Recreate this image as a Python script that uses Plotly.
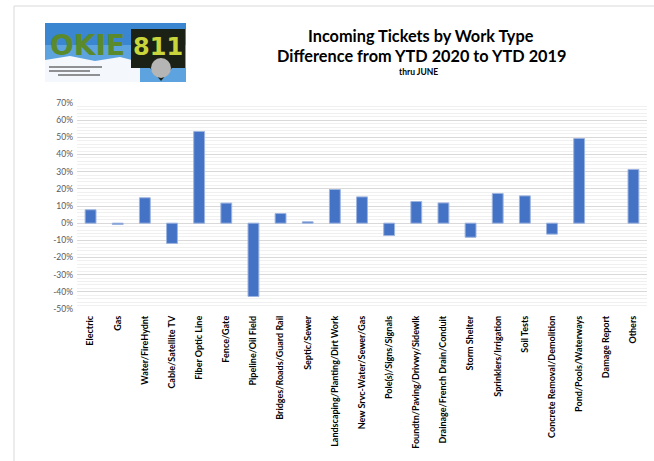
import plotly.graph_objects as go

categories = ["Electric", "Gas", "Water/FireHydnt", "Cable/Satellite TV", "Fiber Optic Line",
              "Fence/Gate", "Pipeline/Oil Field", "Bridges/Roads/Guard Rail", "Septic/Sewer",
              "Landscaping/Planting/Dirt Work", "New Srvc-Water/Sewer/Gas", "Pole(s)/Signs/Signals",
              "Foundtn/Paving/Drivwy/Sidewlk", "Drainage/French Drain/Conduit", "Storm Shelter",
              "Sprinklers/Irrigation", "Soil Tests", "Concrete Removal/Demolition",
              "Pond/Pools/Waterways", "Damage Report", "Others"]
diff_pct = [0.078, -0.008, 0.148, -0.118, 0.534, 0.117, -0.427, 0.056, 0.008,
            0.196, 0.153, -0.072, 0.126, 0.118, -0.082, 0.173, 0.159, -0.064,
            0.493, 0.0, 0.313]
ytick_vals = [-0.5, -0.4, -0.3, -0.2, -0.1, 0, 0.1, 0.2, 0.3, 0.4, 0.5, 0.6, 0.7]
ytick_text = ["-50%", "-40%", "-30%", "-20%", "-10%", "0%", "10%", "20%", "30%", "40%", "50%", "60%", "70%"]

W, H = 654, 461
L, R, T, B = 77, 647, 103, 309
FONT = "Lato"


def px(x):
    return (x - L) / (R - L)


def py(y):
    return (B - y) / (B - T)


fig = go.Figure()
fig.add_trace(go.Bar(
    x=categories, y=diff_pct,
    marker=dict(color="#4472C4",
                line=dict(color="#9DB4E0", width=[0 if v == 0 else 1 for v in diff_pct])),
    hoverinfo="x+y",
))


def rect(x0, y0, x1, y1, color):
    return dict(type="rect", xref="paper", yref="paper", x0=px(x0), x1=px(x1), y0=py(y0), y1=py(y1),
                fillcolor=color, line=dict(width=0), layer="above")


def path(points, color):
    d = "M " + " L ".join(f"{px(a)},{py(b)}" for a, b in points) + " Z"
    return dict(type="path", xref="paper", yref="paper", path=d, fillcolor=color,
                line=dict(width=0), layer="above")


shapes = []
# chart frame
shapes.append(dict(type="line", xref="paper", yref="paper", x0=px(14), x1=px(14), y0=py(6), y1=py(470),
                   line=dict(color="#D9D9D9", width=1)))
shapes.append(dict(type="line", xref="paper", yref="paper", x0=px(14), x1=px(700), y0=py(6), y1=py(6),
                   line=dict(color="#D9D9D9", width=1)))
# logo approximation
shapes.append(rect(45, 23, 186, 82, "#5DA3E0"))
shapes.append(rect(45, 23, 186, 45, "#3A86D0"))
shapes.append(path([(45, 60), (70, 56), (95, 61), (120, 57), (140, 62), (140, 82), (45, 82)], "#F4F7FB"))
shapes.append(path([(131, 29), (185, 29), (185, 68), (172, 68), (161, 81), (150, 68), (131, 68)], "#1C2116"))
shapes.append(dict(type="circle", xref="paper", yref="paper", x0=px(151), x1=px(171), y0=py(58), y1=py(78),
                   fillcolor="#B5B5B5", line=dict(width=0), layer="above"))
for yy, xa, xb in [(67, 49, 102), (71, 49, 90), (75, 58, 100)]:
    shapes.append(dict(type="line", xref="paper", yref="paper", x0=px(xa), x1=px(xb), y0=py(yy), y1=py(yy),
                       line=dict(color="#6E6E6E", width=1.5), layer="above"))

annotations = [
    dict(text="<b>OKIE</b>", x=px(87), y=py(46), xref="paper", yref="paper", showarrow=False,
         xanchor="center", yanchor="middle",
         font=dict(family="DejaVu Sans", size=28, color="#5A8A2C")),
    dict(text="<b>811</b>", x=px(158), y=py(47), xref="paper", yref="paper", showarrow=False,
         xanchor="center", yanchor="middle",
         font=dict(family="DejaVu Sans", size=24, color="#C8D63C")),
    dict(text="<b>Incoming Tickets by Work Type</b>", x=px(421), y=py(36), xref="paper", yref="paper",
         xanchor="center", yanchor="middle",
         showarrow=False, font=dict(family=FONT, size=16.3, color="#000000")),
    dict(text="<b>Difference from YTD 2020 to YTD 2019</b>", x=px(421), y=py(55), xref="paper", yref="paper",
         xanchor="center", yanchor="middle",
         showarrow=False, font=dict(family=FONT, size=16.3, color="#000000")),
    dict(text="<b>thru JUNE</b>", x=px(418), y=py(72), xref="paper", yref="paper",
         xanchor="center", yanchor="middle",
         showarrow=False, font=dict(family=FONT, size=8.5, color="#000000")),
]

fig.update_layout(
    width=W, height=H,
    margin=dict(l=L, r=W - R, t=T, b=H - B),
    paper_bgcolor="white", plot_bgcolor="white",
    showlegend=False,
    bargap=0.6,
    shapes=shapes,
    annotations=annotations,
    font=dict(family=FONT),
    xaxis=dict(
        tickangle=-90,
        tickfont=dict(family=FONT, size=9, color="#000000", weight="bold"),
        showgrid=False, showline=False, zeroline=False,
        ticks="", ticklabelstandoff=4,
    ),
    yaxis=dict(
        range=[-0.5, 0.7],
        tickvals=ytick_vals, ticktext=ytick_text,
        tickfont=dict(family=FONT, size=8.5, color="#595959"),
        showgrid=True, gridcolor="#D9D9D9", gridwidth=1,
        zeroline=True, zerolinecolor="#D9D9D9", zerolinewidth=1,
        showline=False, ticks="", ticklabelstandoff=3,
        minor=dict(dtick=0.02, tick0=0, showgrid=True, gridcolor="#F0F0F0", gridwidth=1),
    ),
)

fig.write_html("out.html")
